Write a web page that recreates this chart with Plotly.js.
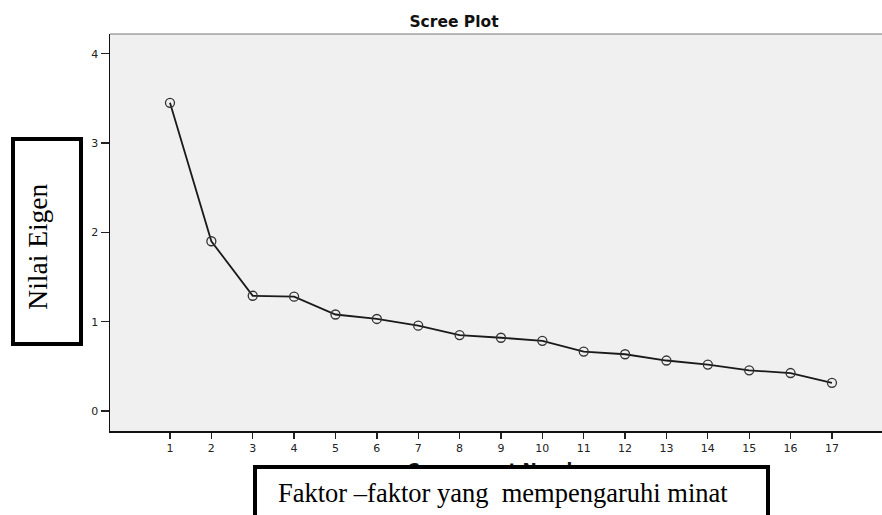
<!DOCTYPE html>
<html>
<head>
<meta charset="utf-8">
<script src="https://cdn.plot.ly/plotly-3.0.1.min.js"></script>
<style>html,body{margin:0;padding:0;background:#fff;}#chart{width:882px;height:515px;}</style>
</head>
<body>
<div id="chart"></div>
<script>
// Data
var componentNumber = [1,2,3,4,5,6,7,8,9,10,11,12,13,14,15,16,17];
var eigenvalues = [3.45,1.90,1.29,1.28,1.08,1.03,0.955,0.85,0.82,0.785,0.665,0.635,0.565,0.52,0.455,0.425,0.315];
var yTickVals = [0,1,2,3,4];
var yTickText = ['0','1','2','3','4'];
var xTickVals = componentNumber;
var xTickText = componentNumber.map(String);

var chartTitle = 'Scree Plot';
var xAxisTitle = 'Component Number';
var yBoxLabel = 'Nilai Eigen';
var xBoxLabel = 'Faktor \u2013faktor yang\u00a0 mempengaruhi minat';

// pixel -> paper helpers (plot area 110..882 x 34..431)
var L = 110, R = 882, T = 34, B = 431;
function px(x){ return (x - L) / (R - L); }
function py(y){ return (B - y) / (B - T); }

var trace = {
  x: componentNumber,
  y: eigenvalues,
  type: 'scatter',
  mode: 'lines+markers',
  line: {color: '#1a1a1a', width: 1.8},
  marker: {symbol: 'circle-open', size: 9, color: '#333333', line: {width: 1.3, color: '#333333'}},
  hoverinfo: 'x+y',
  showlegend: false
};

var layout = {
  width: 882, height: 515,
  margin: {l: L, r: 882 - R, t: T, b: 515 - B, pad: 0},
  paper_bgcolor: '#ffffff',
  plot_bgcolor: '#f0f0f0',
  title: {
    text: chartTitle,
    font: {family: 'DejaVu Sans', size: 15.5, color: '#111', weight: 'bold'},
    x: 454 / 882, xref: 'container', xanchor: 'center',
    y: 1 - 22 / 515, yref: 'container', yanchor: 'middle'
  },
  xaxis: {
    range: [-0.45, 18.21],
    tickmode: 'array', tickvals: xTickVals, ticktext: xTickText,
    ticks: 'outside', ticklen: 6, tickwidth: 1.3, tickcolor: '#222',
    tickfont: {family: 'DejaVu Sans', size: 11, color: '#222'},
    showgrid: false, zeroline: false,
    showline: true, linecolor: '#111', linewidth: 1.5
  },
  yaxis: {
    range: [-0.224, 4.22],
    tickmode: 'array', tickvals: yTickVals, ticktext: yTickText,
    ticks: 'outside', ticklen: 8, tickwidth: 1.3, tickcolor: '#222',
    tickfont: {family: 'DejaVu Sans', size: 11, color: '#222'},
    showgrid: false, zeroline: false,
    showline: true, linecolor: '#111', linewidth: 1.5
  },
  shapes: [
    {type: 'line', xref: 'paper', yref: 'paper', x0: 0, x1: 1, y0: 1, y1: 1,
     line: {color: '#777777', width: 1.2}, layer: 'above'},
    {type: 'rect', xref: 'paper', yref: 'paper',
     x0: px(13), x1: px(81), y0: py(139), y1: py(344),
     fillcolor: '#ffffff', line: {color: '#000000', width: 4}, layer: 'above'}
  ],
  annotations: [
    {text: '<b>' + xAxisTitle + '</b>', xref: 'paper', yref: 'paper',
     x: px(503), y: py(470), xanchor: 'center', yanchor: 'middle', showarrow: false,
     font: {family: 'DejaVu Sans', size: 17, color: '#111'}},
    {text: '\u00a0', xref: 'paper', yref: 'paper',
     x: px(253), y: py(464.5), xanchor: 'left', yanchor: 'top', showarrow: false,
     width: 509, height: 70, borderwidth: 4, borderpad: 0,
     bordercolor: '#000000', bgcolor: '#ffffff',
     font: {family: 'Liberation Serif', size: 10, color: '#000'}},
    {text: xBoxLabel, xref: 'paper', yref: 'paper',
     x: px(277), y: py(493.3), xanchor: 'left', yanchor: 'middle', showarrow: false,
     borderpad: 0,
     font: {family: 'Liberation Serif', size: 26.5, color: '#000'}},
    {text: yBoxLabel, xref: 'paper', yref: 'paper',
     x: px(38), y: py(246.7), xanchor: 'center', yanchor: 'middle', showarrow: false,
     textangle: -90, borderpad: 0,
     font: {family: 'Liberation Serif', size: 27.5, color: '#000'}}
  ]
};

Plotly.newPlot('chart', [trace], layout, {displayModeBar: false, staticPlot: true});
</script>
</body>
</html>
